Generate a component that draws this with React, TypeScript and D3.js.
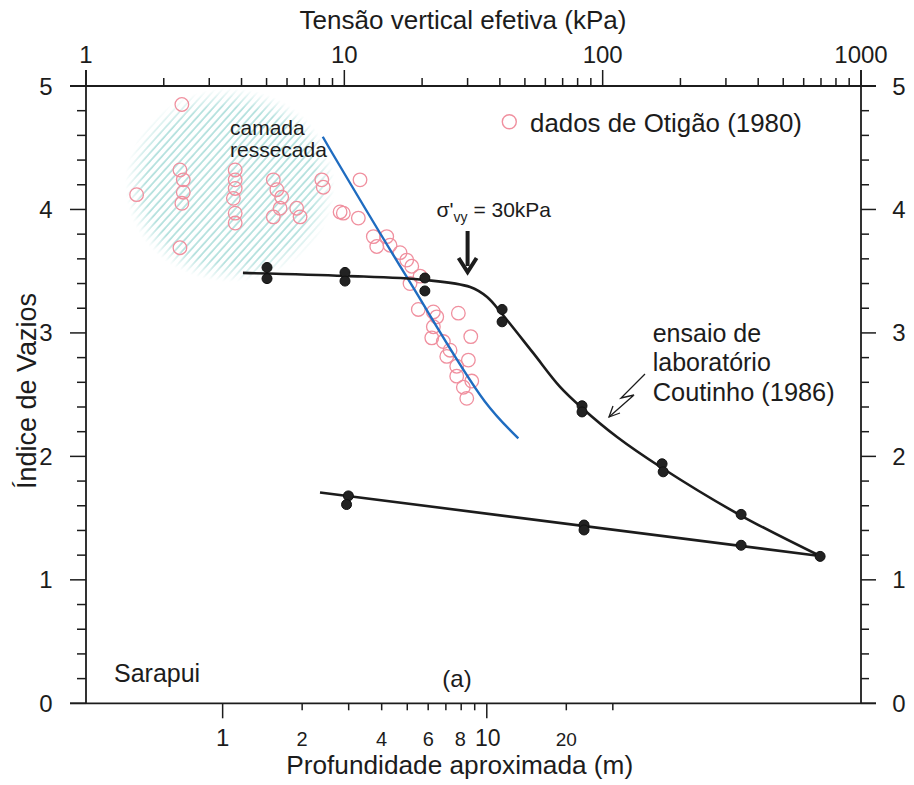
import React from 'react';
import * as d3 from 'd3';

const W = 914;
const H = 785;

// ---- axes ----
const stressDomain = [1, 1000];
const voidDomain = [0, 5];
const stressTickLabels = [1, 10, 100, 1000];
const voidTickLabels = [0, 1, 2, 3, 4, 5];
const depthMajorTicks = [1, 10];
const depthMinorTicks = [2, 3, 4, 5, 6, 7, 8, 9, 20, 30];
const depthTickLabels = [1, 2, 4, 6, 8, 10, 20];
// stress equivalent of depth (for lower axis)
const depthRefDepth = [1, 10];
const depthRefStress = [3.38, 35.6];

// ---- Otigão (1980) data ----
const otigaoStress = [
  2.35, 1.57, 2.31, 2.38, 2.38, 2.35, 2.31,
  3.78, 3.78, 3.78, 3.72, 3.78, 3.78,
  5.31, 5.48, 5.72, 5.64, 5.31, 6.54, 6.74,
  8.18, 8.29, 9.63, 9.91, 11.5, 11.33,
  12.95, 13.35, 14.59, 15.03, 16.43, 17.44, 18.24, 19.64, 17.96, 19.34, 22.11, 22.79,
  22.11, 21.8, 24.17, 25.66, 24.92, 27.23, 30.21, 27.23, 31.14, 28.89, 29.78, 27.63, 30.86,
];
const otigaoVoid = [
  4.85, 4.12, 4.32, 4.24, 4.14, 4.05, 3.69,
  4.32, 4.24, 4.17, 4.09, 3.97, 3.89,
  4.24, 4.16, 4.1, 4.01, 3.94, 4.01, 3.94,
  4.24, 4.18, 3.98, 3.97, 4.24, 3.93,
  3.78, 3.7, 3.78, 3.71, 3.65, 3.59, 3.54, 3.46, 3.4, 3.19, 3.17, 3.13,
  3.05, 2.96, 2.93, 2.86, 2.81, 2.73, 2.78, 2.65, 2.61, 2.56, 2.47, 3.16, 2.97,
];

// ---- blue trend line ----
const blueStress = [8.25, 9.07, 17.44, 35.05, 47.17];
const blueVoid = [4.589, 4.441, 3.453, 2.443, 2.146];

// ---- laboratory test, Coutinho (1986) ----
const labCurveStress = [4.05, 10.06, 20.5, 30.7, 35.7, 40.8, 53.8, 68.4, 83.2, 113.7, 169.8, 340, 694.6];
const labCurveVoid = [3.486, 3.462, 3.429, 3.372, 3.291, 3.153, 2.838, 2.563, 2.392, 2.157, 1.906, 1.525, 1.193];
const unloadStress = [694.6, 8.05];
const unloadVoid = [1.193, 1.708];
const labLoadDotStress = [5.02, 5.02, 10.06, 10.06, 20.5, 20.5, 40.8, 40.8, 83.2, 83.2, 169.8, 171.5, 343.5, 694.6];
const labLoadDotVoid = [3.53, 3.44, 3.49, 3.42, 3.445, 3.34, 3.19, 3.09, 2.41, 2.36, 1.94, 1.875, 1.53, 1.19];
const labUnloadDotStress = [343.5, 84.7, 84.7, 10.37, 10.2];
const labUnloadDotVoid = [1.28, 1.444, 1.404, 1.68, 1.61];

// ---- dried crust zone (hatched) ----
const crustCenter = [3.61, 4.198]; // stress, void ratio
const crustRadius = [0.4065, 0.786]; // decades of stress, void ratio units

const preconsolidation = 30;

const FONT = "'Liberation Sans', Arial, Helvetica, sans-serif";
const INK = '#1c1c1c';

export default function App() {
  const x = d3.scaleLog().domain(stressDomain).range([86, 861]);
  const y = d3.scaleLinear().domain(voidDomain).range([703.3, 86]);
  const xd = d3.scaleLog().domain(depthRefDepth).range(depthRefStress.map((s) => x(s)));

  const x0 = x(stressDomain[0]);
  const x1 = x(stressDomain[1]);
  const yTop = y(voidDomain[1]);
  const yBot = y(voidDomain[0]);

  const topMinor: number[] = [];
  [1, 10, 100].forEach((dec) => {
    for (let k = 2; k <= 9; k++) topMinor.push(dec * k);
  });
  const vTicks = d3.range(0, 5.0001, 0.2).map((v) => Math.round(v * 10) / 10);

  const curveLine = d3
    .line<[number, number]>()
    .x((d) => x(d[0]))
    .y((d) => y(d[1]))
    .curve(d3.curveCatmullRom.alpha(0.5));
  const straight = d3
    .line<[number, number]>()
    .x((d) => x(d[0]))
    .y((d) => y(d[1]));

  const labPts = labCurveStress.map((s, i) => [s, labCurveVoid[i]] as [number, number]);
  const unloadPts = unloadStress.map((s, i) => [s, unloadVoid[i]] as [number, number]);
  const bluePts = blueStress.map((s, i) => [s, blueVoid[i]] as [number, number]);

  const cx = x(crustCenter[0]);
  const cy = y(crustCenter[1]);
  const rx = x(crustCenter[0] * Math.pow(10, crustRadius[0])) - cx;
  const ry = y(crustCenter[1] - crustRadius[1]) - cy;

  const ax = x(preconsolidation);

  const depthFont = (t: number) => (t === 1 ? 24 : t === 10 ? 23 : t === 20 ? 19 : 20);

  return (
    <svg
      width={W}
      height={H}
      viewBox={`0 0 ${W} ${H}`}
      style={{ position: 'absolute', left: 0, top: 0, background: '#fff' }}
      fontFamily={FONT}
    >
      <defs>
        <pattern id="hatch" width={5.6} height={5.6} patternUnits="userSpaceOnUse" patternTransform="rotate(42)">
          <line x1={1} y1={0} x2={1} y2={5.6} stroke="#acdedb" strokeWidth={1.6} />
        </pattern>
        <radialGradient id="fade" cx="50%" cy="50%" r="50%">
          <stop offset="0.8" stopColor="#fff" />
          <stop offset="1" stopColor="#000" />
        </radialGradient>
        <mask id="crustMask" maskUnits="userSpaceOnUse">
          <ellipse cx={cx} cy={cy} rx={rx} ry={ry} fill="url(#fade)" />
        </mask>
      </defs>

      {/* hatched dried crust */}
      <rect x={cx - rx} y={cy - ry} width={2 * rx} height={2 * ry} fill="url(#hatch)" mask="url(#crustMask)" />

      {/* frame */}
      <g stroke={INK} strokeWidth={1.8} fill="none">
        <line x1={70} y1={yTop} x2={x1 + 15} y2={yTop} />
        <line x1={70} y1={yBot} x2={x1 + 15} y2={yBot} />
        <line x1={x0} y1={yTop - 16} x2={x0} y2={yBot} />
        <line x1={x1} y1={yTop - 16} x2={x1} y2={yBot} />
      </g>

      {/* top axis ticks */}
      <g stroke={INK} strokeWidth={1.5}>
        {stressTickLabels.map((t) => (
          <line key={'tm' + t} x1={x(t)} x2={x(t)} y1={yTop} y2={yTop - 16} />
        ))}
        {topMinor.map((t) => (
          <line key={'tn' + t} x1={x(t)} x2={x(t)} y1={yTop} y2={yTop - 8} />
        ))}
      </g>
      <g fontSize={24} fill={INK} textAnchor="middle">
        {stressTickLabels.map((t) => (
          <text key={'tl' + t} x={x(t)} y={63.3}>
            {t}
          </text>
        ))}
      </g>
      <text x={463} y={29} fontSize={26} fill={INK} textAnchor="middle" textLength={327} lengthAdjust="spacingAndGlyphs">
        Tensão vertical efetiva (kPa)
      </text>

      {/* left & right axis ticks */}
      <g stroke={INK} strokeWidth={1.5}>
        {vTicks.map((v) => {
          const major = Math.abs(v - Math.round(v)) < 1e-6;
          return (
            <g key={'v' + v}>
              <line x1={x0} x2={x0 - (major ? 16 : 9)} y1={y(v)} y2={y(v)} />
              <line x1={x1} x2={x1 + (major ? 15 : 8)} y1={y(v)} y2={y(v)} />
            </g>
          );
        })}
      </g>
      <g fontSize={24} fill={INK} textAnchor="middle" dominantBaseline="central">
        {voidTickLabels.map((v) => (
          <g key={'vl' + v}>
            <text x={46} y={y(v)}>
              {v}
            </text>
            <text x={899} y={y(v)}>
              {v}
            </text>
          </g>
        ))}
      </g>
      <text transform={`translate(36, 391) rotate(-90)`} fontSize={27} fill={INK} textAnchor="middle">
        Índice de Vazios
      </text>

      {/* bottom (depth) axis */}
      <g stroke={INK} strokeWidth={1.5}>
        {depthMajorTicks.map((t) => (
          <line key={'dm' + t} x1={xd(t)} x2={xd(t)} y1={yBot} y2={yBot + 15} />
        ))}
        {depthMinorTicks.map((t) => (
          <line key={'dn' + t} x1={xd(t)} x2={xd(t)} y1={yBot} y2={yBot + 7} />
        ))}
      </g>
      <g fill={INK} textAnchor="middle">
        {depthTickLabels.map((t) => (
          <text key={'dl' + t} x={xd(t) + (t === 8 ? -1 : t === 10 ? 1 : 0)} y={745.5} fontSize={depthFont(t)}>
            {t}
          </text>
        ))}
      </g>
      <text x={459.7} y={773.5} fontSize={25} fill={INK} textAnchor="middle" textLength={347} lengthAdjust="spacingAndGlyphs">
        Profundidade aproximada (m)
      </text>

      {/* Otigão data */}
      <g fill="none" stroke="#f0909f" strokeWidth={1.3}>
        {otigaoStress.map((s, i) => (
          <circle key={'o' + i} cx={x(s)} cy={y(otigaoVoid[i])} r={6.8} />
        ))}
      </g>

      {/* blue line */}
      <path d={curveLine(bluePts) || ''} fill="none" stroke="#1f6cc0" strokeWidth={2.4} />

      {/* lab curves */}
      <path d={curveLine(labPts) || ''} fill="none" stroke={INK} strokeWidth={2.6} />
      <path d={straight(unloadPts) || ''} fill="none" stroke={INK} strokeWidth={2.6} />
      <g fill="#222" stroke="#111" strokeWidth={1}>
        {labLoadDotStress.map((s, i) => (
          <circle key={'ld' + i} cx={x(s)} cy={y(labLoadDotVoid[i])} r={5} />
        ))}
        {labUnloadDotStress.map((s, i) => (
          <circle key={'ud' + i} cx={x(s)} cy={y(labUnloadDotVoid[i])} r={5} />
        ))}
      </g>

      {/* legend */}
      <circle cx={509.3} cy={121.7} r={7} fill="none" stroke="#f0909f" strokeWidth={1.4} />
      <text x={530} y={131.7} fontSize={26} fill={INK} textLength={272} lengthAdjust="spacingAndGlyphs">
        dados de Otigão (1980)
      </text>

      {/* dried crust label */}
      <g fontSize={21} fill={INK}>
        <text x={230} y={135}>camada</text>
        <text x={230} y={157.3}>ressecada</text>
      </g>

      {/* preconsolidation annotation */}
      <text x={ax - 31} y={216.7} fontSize={21} fill={INK}>
        σ'
        <tspan fontSize={14} dy={5}>
          vy
        </tspan>
        <tspan dy={-5}> = 30kPa</tspan>
      </text>
      <line x1={ax} x2={ax} y1={231} y2={266} stroke={INK} strokeWidth={4} />
      <path
        d={`M${ax - 9},${258} L${ax},${272} L${ax + 9},${258}`}
        fill="none"
        stroke={INK}
        strokeWidth={4}
        strokeLinejoin="miter"
      />

      {/* lab label */}
      <g fontSize={25} fill={INK}>
        <text x={652.7} y={341.7}>ensaio de</text>
        <text x={652.7} y={371.2}>laboratório</text>
        <text x={652.7} y={400.7} textLength={182} lengthAdjust="spacingAndGlyphs">
          Coutinho (1986)
        </text>
      </g>
      <path d="M645,374 L621,398 L634,395 L609,417" fill="none" stroke={INK} strokeWidth={1.3} />
      <path d="M613,406 L609,417 L620,413" fill="none" stroke={INK} strokeWidth={1.3} />

      {/* panel labels */}
      <text x={114} y={681.7} fontSize={25} fill={INK}>
        Sarapui
      </text>
      <text x={457} y={687} fontSize={24} fill={INK} textAnchor="middle">
        (a)
      </text>
    </svg>
  );
}
